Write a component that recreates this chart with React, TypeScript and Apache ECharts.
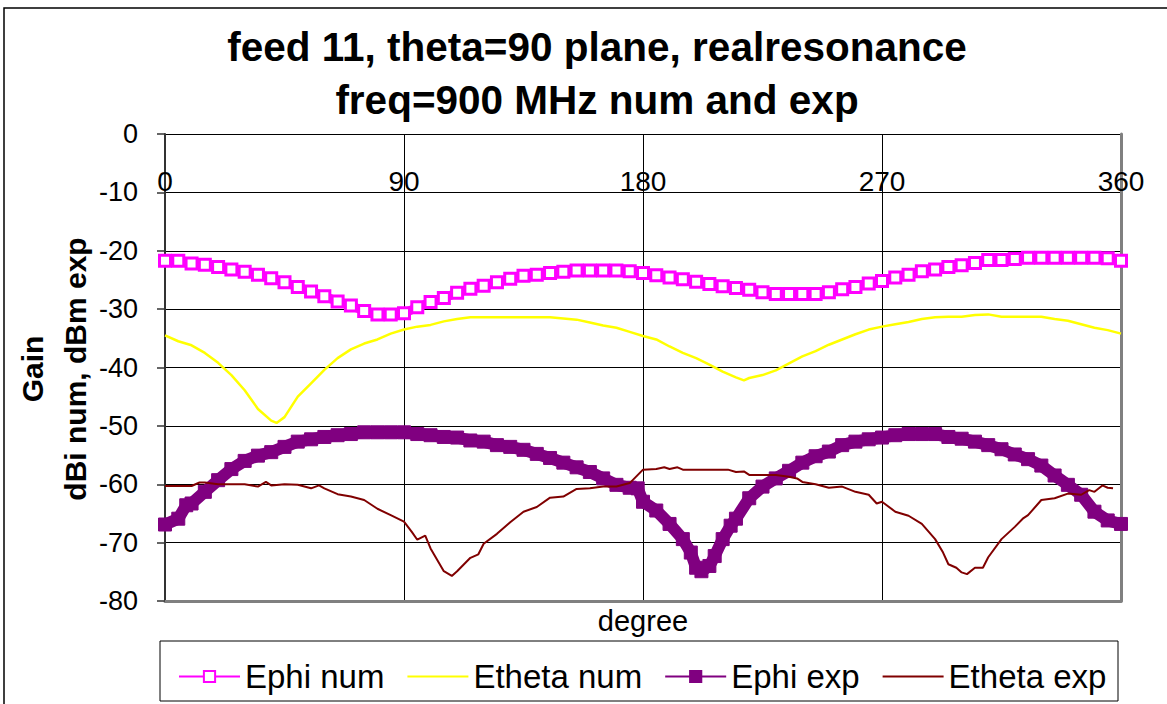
import React, { useEffect, useRef } from "react";
import * as echarts from "echarts";

const titleLines = ["feed 11, theta=90 plane, realresonance", "freq=900 MHz num and exp"];
const yAxisTitle = ["Gain", "dBi num, dBm exp"];
const xAxisTitle = "degree";
const seriesNames = ["Ephi num", "Etheta num", "Ephi exp", "Etheta exp"];

// [degree, gain]
const ephiNum: [number, number][] = [
  [0, -21.7], [5, -21.7], [10, -22.2], [15, -22.4], [20, -22.8], [25, -23.2], [30, -23.6], [35, -24.1],
  [40, -24.7], [45, -25.4], [50, -26.2], [55, -27.0], [60, -27.8], [65, -28.7], [70, -29.4], [75, -30.3],
  [80, -30.9], [85, -30.9], [90, -30.7], [95, -29.7], [100, -28.8], [105, -28.1], [110, -27.2], [115, -26.5],
  [120, -26.0], [125, -25.4], [130, -24.8], [135, -24.3], [140, -24.1], [145, -23.8], [150, -23.6], [155, -23.4],
  [160, -23.4], [165, -23.4], [170, -23.4], [175, -23.5], [180, -23.8], [185, -24.2], [190, -24.6], [195, -24.9],
  [200, -25.3], [205, -25.7], [210, -26.1], [215, -26.4], [220, -26.7], [225, -27.1], [230, -27.4], [235, -27.4],
  [240, -27.4], [245, -27.4], [250, -27.1], [255, -26.6], [260, -26.2], [265, -25.6], [270, -25.2], [275, -24.6],
  [280, -24.1], [285, -23.5], [290, -23.2], [295, -22.8], [300, -22.5], [305, -22.1], [310, -21.6], [315, -21.6],
  [320, -21.4], [325, -21.2], [330, -21.2], [335, -21.2], [340, -21.2], [345, -21.2], [350, -21.2], [355, -21.3],
  [360, -21.7],
];

const ethetaNum: [number, number][] = [
  [0, -34.5], [5, -35.5], [10, -36.2], [15, -37.5], [20, -39.2], [25, -41.3], [30, -43.9], [35, -47.1],
  [40, -49.1], [42, -49.5], [45, -48.5], [50, -45.0], [55, -42.7], [60, -40.4], [65, -38.4], [70, -36.9],
  [75, -35.9], [80, -35.2], [85, -34.2], [90, -33.5], [95, -33.0], [100, -32.7], [105, -32.1], [110, -31.7],
  [115, -31.4], [120, -31.4], [125, -31.4], [130, -31.4], [135, -31.4], [140, -31.4], [145, -31.4], [150, -31.6],
  [155, -31.8], [160, -32.3], [165, -32.8], [170, -33.2], [175, -33.9], [180, -34.6], [185, -35.2], [190, -36.4],
  [195, -37.5], [200, -38.4], [205, -39.5], [210, -40.7], [215, -41.7], [218, -42.2], [220, -41.8], [225, -41.3],
  [230, -40.5], [235, -39.3], [240, -38.1], [245, -37.2], [250, -36.1], [255, -35.2], [260, -34.3], [265, -33.5],
  [270, -33.0], [275, -32.6], [280, -32.2], [285, -31.7], [290, -31.4], [295, -31.3], [300, -31.3], [305, -31.0],
  [310, -30.9], [315, -31.3], [320, -31.3], [325, -31.3], [330, -31.3], [335, -31.7], [340, -32.0], [345, -32.6],
  [350, -33.2], [355, -33.6], [360, -34.2],
];

const ephiExp: [number, number][] = [
  [0, -66.9], [5, -65.9], [8, -63.6], [10, -63.3], [15, -61.3], [20, -59.3], [25, -57.4], [30, -56.0],
  [35, -55.1], [40, -54.5], [45, -53.6], [50, -52.7], [55, -52.3], [60, -51.9], [65, -51.6], [70, -51.4],
  [75, -51.1], [80, -51.1], [85, -51.1], [90, -51.1], [95, -51.4], [100, -51.6], [105, -51.9], [110, -52.0],
  [115, -52.5], [120, -52.7], [125, -53.3], [130, -53.6], [135, -54.1], [140, -54.8], [145, -55.5], [150, -56.3],
  [155, -57.1], [160, -57.9], [165, -59.0], [170, -60.1], [175, -60.6], [178, -60.7], [180, -63.0], [185, -64.5],
  [190, -66.8], [195, -69.4], [198, -71.7], [200, -74.3], [202, -74.9], [205, -74.0], [207, -72.3], [210, -69.4],
  [213, -67.1], [215, -65.9], [220, -62.4], [225, -60.4], [230, -59.0], [235, -57.7], [240, -56.3], [245, -55.2],
  [250, -54.4], [255, -53.3], [260, -52.7], [265, -52.3], [270, -52.0], [275, -51.6], [280, -51.4], [285, -51.4],
  [290, -51.4], [295, -51.9], [300, -52.2], [305, -52.7], [310, -53.3], [315, -54.0], [320, -54.9], [325, -55.7],
  [330, -56.8], [335, -58.5], [340, -60.1], [345, -61.8], [350, -64.7], [355, -66.2], [360, -66.8],
];

const ethetaExp: [number, number][] = [
  [0, -60.3], [5, -60.3], [10, -60.3], [13, -59.7], [15, -59.7], [20, -60.0], [25, -60.0], [30, -60.0],
  [35, -60.4], [38, -59.6], [40, -60.2], [45, -60.0], [50, -60.1], [55, -60.7], [58, -60.2], [60, -60.7],
  [65, -61.7], [70, -62.1], [75, -62.7], [80, -64.2], [85, -65.3], [90, -66.4], [93, -68.2], [95, -69.5],
  [98, -68.8], [100, -71.0], [105, -74.9], [108, -75.7], [110, -74.9], [115, -72.6], [118, -72.0], [120, -70.2],
  [125, -68.5], [130, -66.5], [135, -64.7], [140, -63.9], [145, -62.3], [150, -62.1], [155, -60.8], [160, -60.7],
  [165, -60.4], [170, -60.4], [175, -59.8], [180, -57.5], [185, -57.4], [188, -57.1], [190, -57.4], [193, -57.1],
  [195, -57.5], [200, -57.5], [205, -57.5], [210, -57.5], [212, -57.5], [215, -57.9], [218, -57.8], [220, -58.4],
  [225, -58.4], [230, -58.4], [235, -58.7], [238, -59.0], [240, -59.6], [245, -60.0], [250, -60.6], [255, -60.4],
  [260, -61.3], [265, -61.8], [268, -63.3], [270, -63.0], [275, -64.7], [280, -65.4], [285, -66.8], [290, -69.4],
  [293, -71.7], [295, -73.7], [298, -74.3], [300, -75.1], [302, -75.4], [305, -74.3], [308, -74.3], [310, -72.5],
  [315, -69.4], [320, -67.3], [323, -65.9], [325, -65.3], [330, -62.7], [335, -62.4], [340, -61.6], [345, -61.8],
  [348, -61.0], [350, -61.3], [353, -60.2], [355, -60.6], [357, -60.7],
];

const FONT = "'Liberation Sans', Arial, sans-serif";

export default function App() {
  const ref = useRef<HTMLDivElement>(null);
  useEffect(() => {
    if (!ref.current) return;
    const chart = echarts.init(ref.current, null, { renderer: "svg" });
    chart.setOption({
      animation: false,
      backgroundColor: "#ffffff",
      textStyle: { fontFamily: FONT },
      graphic: [
        {
          type: "rect",
          z: -10,
          shape: { x: 4, y: 8, width: 1300, height: 800 },
          style: { fill: "none", stroke: "#000", lineWidth: 1.5 },
        },
        {
          type: "rect",
          z: -5,
          shape: { x: 160, y: 641, width: 958, height: 60 },
          style: { fill: "#fff", stroke: "#000", lineWidth: 1 },
        },
        {
          type: "text",
          x: 597,
          y: 47,
          style: { text: titleLines[0], align: "center", verticalAlign: "middle", fontSize: 40.5, fontWeight: "bold", fontFamily: FONT, fill: "#000" },
        },
        {
          type: "text",
          x: 597,
          y: 100,
          style: { text: titleLines[1], align: "center", verticalAlign: "middle", fontSize: 40.5, fontWeight: "bold", fontFamily: FONT, fill: "#000" },
        },
        {
          type: "text",
          x: 32,
          y: 369,
          rotation: Math.PI / 2,
          style: { text: yAxisTitle[0], align: "center", verticalAlign: "middle", fontSize: 30, fontWeight: "bold", fontFamily: FONT, fill: "#000" },
        },
        {
          type: "text",
          x: 75,
          y: 369,
          rotation: Math.PI / 2,
          style: { text: yAxisTitle[1], align: "center", verticalAlign: "middle", fontSize: 30, fontWeight: "bold", fontFamily: FONT, fill: "#000" },
        },
      ],
      grid: { left: 165, right: 46, top: 134, bottom: 103, containLabel: false },
      legend: {
        left: 173,
        top: 655,
        itemWidth: 61,
        itemHeight: 14,
        itemGap: 22,
        textStyle: { fontSize: 33, color: "#000", fontFamily: FONT },
        data: seriesNames,
      },
      xAxis: [
        {
          type: "value",
          position: "bottom",
          min: 0,
          max: 360,
          interval: 90,
          name: xAxisTitle,
          nameLocation: "middle",
          nameGap: 5,
          nameTextStyle: { fontSize: 29, color: "#000", fontFamily: FONT, verticalAlign: "top" },
          axisLine: { show: true, onZero: false, lineStyle: { color: "#808080", width: 3 } },
          axisTick: { show: false },
          axisLabel: { show: false },
          splitLine: { show: true, lineStyle: { color: "#000", width: 1 } },
        },
        {
          type: "value",
          position: "top",
          min: 0,
          max: 360,
          interval: 90,
          axisLine: { show: false },
          axisTick: { show: false },
          splitLine: { show: false },
          axisLabel: { show: true, margin: -61, fontSize: 28, color: "#000", fontFamily: FONT },
        },
      ],
      yAxis: [
        {
          type: "value",
          position: "left",
          min: -80,
          max: 0,
          interval: 10,
          axisLine: { show: true, onZero: false, lineStyle: { color: "#333", width: 2 } },
          axisTick: { show: true, inside: false, length: 8, lineStyle: { color: "#333", width: 1.5 } },
          axisLabel: { margin: 27, fontSize: 27, color: "#000", fontFamily: FONT },
          splitLine: { show: true, lineStyle: { color: "#000", width: 1 } },
        },
        {
          type: "value",
          position: "right",
          min: -80,
          max: 0,
          interval: 10,
          axisLine: { show: true, onZero: false, lineStyle: { color: "#808080", width: 3 } },
          axisTick: { show: false },
          axisLabel: { show: false },
          splitLine: { show: false },
        },
      ],
      series: [
        {
          name: "Ephi num band",
          type: "line",
          data: ephiNum,
          silent: true,
          symbol: "none",
          lineStyle: { color: "#FF00FF", width: 9, join: "bevel", cap: "butt" },
          z: 2,
        },
        {
          name: seriesNames[0],
          type: "line",
          data: ephiNum,
          color: "#FF00FF",
          symbol: "rect",
          symbolSize: 11,
          showAllSymbol: true,
          lineStyle: { color: "#FF00FF", width: 2 },
          itemStyle: { color: "#FFFFFF", borderColor: "#FF00FF", borderWidth: 3 },
          z: 3,
        },
        {
          name: seriesNames[1],
          type: "line",
          data: ethetaNum,
          color: "#FFFF00",
          symbol: "none",
          showSymbol: false,
          lineStyle: { color: "#FFFF00", width: 2.5 },
          itemStyle: { opacity: 0 },
          z: 3,
        },
        {
          name: "Ephi exp band",
          type: "line",
          data: ephiExp,
          silent: true,
          symbol: "none",
          lineStyle: { color: "#800080", width: 12, join: "bevel", cap: "butt" },
          z: 4,
        },
        {
          name: seriesNames[2],
          type: "line",
          data: ephiExp,
          color: "#800080",
          symbol: "rect",
          symbolSize: 13,
          showAllSymbol: true,
          lineStyle: { color: "#800080", width: 2 },
          itemStyle: { color: "#800080", borderColor: "#800080", borderWidth: 1 },
          z: 4,
        },
        {
          name: seriesNames[3],
          type: "line",
          data: ethetaExp,
          color: "#800000",
          symbol: "none",
          showSymbol: false,
          lineStyle: { color: "#800000", width: 2 },
          itemStyle: { opacity: 0 },
          z: 5,
        },
      ],
    });
    return () => chart.dispose();
  }, []);
  return (
    <div
      ref={ref}
      style={{ position: "absolute", left: 0, top: 0, width: 1167, height: 704, background: "#fff" }}
    />
  );
}
